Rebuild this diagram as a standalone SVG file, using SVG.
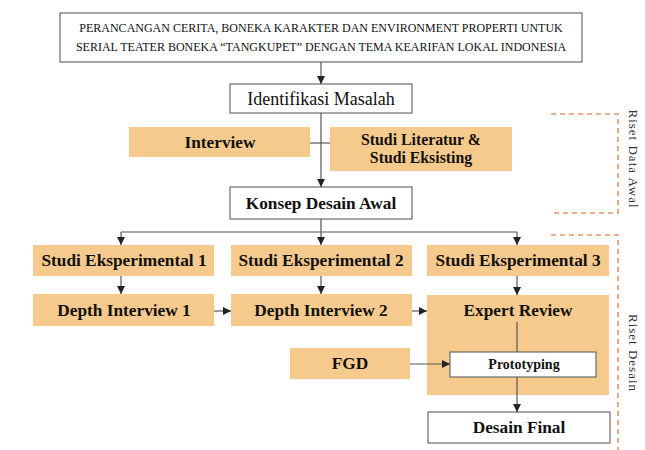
<svg xmlns="http://www.w3.org/2000/svg" width="645" height="450" viewBox="0 0 645 450">
<style>
.w{fill:#fff;stroke:#6b6b6b;stroke-width:1.2}
.o{fill:#F6CA8C;stroke:none}
text{font-family:'Liberation Serif','DejaVu Serif',serif}
.t{fill:#111;text-anchor:middle}
.b{font-weight:bold;font-size:17.3px}
.b2{font-weight:bold;font-size:15.8px}
.c{stroke:#555;stroke-width:1.2;fill:none}
.d{stroke:#E8956A;stroke-width:1.6;fill:none;stroke-dasharray:5 4}
.r{fill:#333;font-size:13px;letter-spacing:1px;text-anchor:middle}
</style>
<defs>
<marker id="ah" viewBox="0 0 10 10" refX="10" refY="5" markerWidth="8" markerHeight="8" markerUnits="userSpaceOnUse" orient="auto">
<path d="M0,0 L10,5 L0,10 z" fill="#222"/>
</marker>
</defs>
<rect width="645" height="450" fill="#fff"/>
<g font-family="Liberation Serif, DejaVu Serif, serif">
<g id="title"><rect class="w" x="60" y="13" width="522" height="49"/>
<text class="t" x="321" y="32" font-size="12px">PERANCANGAN CERITA, BONEKA KARAKTER DAN ENVIRONMENT PROPERTI UNTUK</text>
<text class="t" x="321" y="51" font-size="12px">SERIAL TEATER BONEKA “TANGKUPET” DENGAN TEMA KEARIFAN LOKAL INDONESIA</text></g>
<g id="identifikasi"><rect class="w" x="230" y="84" width="182" height="29"/><text class="t" x="321" y="105" font-size="18px">Identifikasi Masalah</text></g>
<g id="interview"><rect class="o" x="129" y="127" width="181" height="30"/><text class="t b" x="220" y="148">Interview</text></g>
<g id="literatur"><rect class="o" x="330" y="127" width="182" height="44"/><text class="t b2" x="421" y="145">Studi Literatur &amp;</text><text class="t b2" x="421" y="163">Studi Eksisting</text></g>
<g id="konsep"><rect class="w" x="230" y="187" width="182" height="32"/><text class="t b" x="321" y="209">Konsep Desain Awal</text></g>
<g id="se1"><rect class="o" x="33" y="245" width="181" height="31"/><text class="t b" x="124" y="266">Studi Eksperimental 1</text></g>
<g id="se2"><rect class="o" x="231" y="245" width="181" height="31"/><text class="t b" x="321" y="266">Studi Eksperimental 2</text></g>
<g id="se3"><rect class="o" x="427" y="245" width="182" height="31"/><text class="t b" x="518" y="266">Studi Eksperimental 3</text></g>
<g id="di1"><rect class="o" x="33" y="294" width="181" height="32"/><text class="t b" x="124" y="316">Depth Interview 1</text></g>
<g id="di2"><rect class="o" x="231" y="294" width="181" height="32"/><text class="t b" x="321" y="316">Depth Interview 2</text></g>
<g id="expert"><rect class="o" x="427" y="295" width="182" height="100"/><text class="t b" x="518" y="316">Expert Review</text></g>
<g id="fgd"><rect class="o" x="290" y="348" width="120" height="31"/><text class="t b" x="350" y="369">FGD</text></g>
<g id="prototyping"><rect class="w" x="450" y="352" width="146" height="25"/><text class="t" x="524" y="369" font-size="14px" font-weight="bold">Prototyping</text></g>
<g id="final"><rect class="w" x="428" y="412" width="182" height="31"/><text class="t b" x="519" y="433">Desain Final</text></g>
</g>
<g id="connectors">
<path class="c" d="M321,62 V84" marker-end="url(#ah)"/>
<path class="c" d="M321,113 V187" marker-end="url(#ah)"/>
<path class="c" d="M310,143 H330"/>
<path class="c" d="M321,219 V232 M121,232 H517"/>
<path class="c" d="M121,232 V245" marker-end="url(#ah)"/>
<path class="c" d="M321,232 V245" marker-end="url(#ah)"/>
<path class="c" d="M517,232 V245" marker-end="url(#ah)"/>
<path class="c" d="M121,276 V294" marker-end="url(#ah)"/>
<path class="c" d="M321,276 V294" marker-end="url(#ah)"/>
<path class="c" d="M517,276 V295" marker-end="url(#ah)"/>
<path class="c" d="M214,311 H231" marker-end="url(#ah)"/>
<path class="c" d="M412,311 H427" marker-end="url(#ah)"/>
<path class="c" d="M517,322 V352"/>
<path class="c" d="M410,364 H450" marker-end="url(#ah)"/>
<path class="c" d="M517,377 V412" marker-end="url(#ah)"/>
</g>
<g id="riset-data-awal">
<path class="d" d="M551,114 H618 V213 H551"/>
<text class="r" transform="translate(629,159) rotate(90)">Riset Data Awal</text>
</g>
<g id="riset-desain">
<path class="d" d="M551,235 H618 V450"/>
<text class="r" transform="translate(629,353) rotate(90)">Riset Desain</text>
</g>
</svg>
